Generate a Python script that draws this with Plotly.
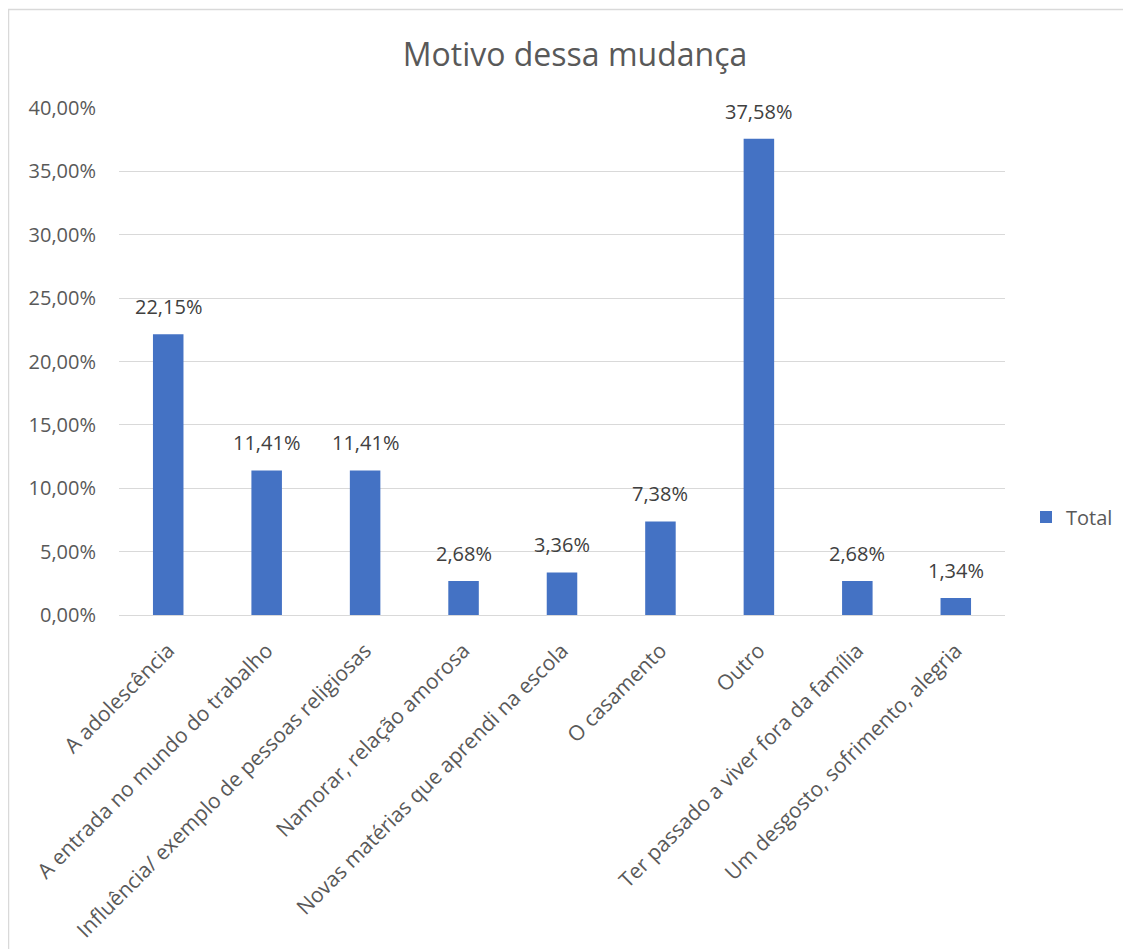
import plotly.graph_objects as go

categories = [
    "A adolescência",
    "A entrada no mundo do trabalho",
    "Influência/ exemplo de pessoas religiosas",
    "Namorar, relação amorosa",
    "Novas matérias que aprendi na escola",
    "O casamento",
    "Outro",
    "Ter passado a viver fora da família",
    "Um desgosto, sofrimento, alegria",
]
values = [0.2215, 0.1141, 0.1141, 0.0268, 0.0336, 0.0738, 0.3758, 0.0268, 0.0134]
series_name = "Total"
title_text = "Motivo dessa mudança"

FONT = "Open Sans"
OFF = 8  # page body margin
W, H = 1131 - OFF, 949 - OFF
L, R, T, B = 119 - OFF, 1005 - OFF, 108 - OFF, 615 - OFF

fig = go.Figure(
    go.Bar(
        x=categories,
        y=values,
        name=series_name,
        marker=dict(color="#4472C4", line=dict(width=0)),
        showlegend=True,
    )
)

for c, v in zip(categories, values):
    fig.add_annotation(
        x=c,
        y=v,
        xref="x",
        yref="y",
        text=f"{v * 100:.2f}%".replace(".", ","),
        showarrow=False,
        yanchor="bottom",
        yshift=12,
        font=dict(family=FONT, size=20, color="#404040"),
    )

fig.update_layout(
    width=W,
    height=H,
    separators=",.",
    paper_bgcolor="white",
    plot_bgcolor="white",
    margin=dict(l=L, r=W - R, t=T, b=H - B, autoexpand=False),
    bargap=0.69,
    title=dict(
        text=title_text,
        x=(575 - OFF) / W,
        xanchor="center",
        y=1 - (55 - OFF) / H,
        yanchor="middle",
        font=dict(family=FONT, size=32, color="#595959"),
    ),
    font=dict(family=FONT, color="#595959"),
    legend=dict(
        x=(1026 - 119) / (R - L),
        y=(615 - 517) / (B - T),
        xanchor="left",
        yanchor="middle",
        itemwidth=30,
        font=dict(family=FONT, size=20, color="#595959"),
        bgcolor="rgba(0,0,0,0)",
    ),
    xaxis=dict(
        tickangle=-45,
        tickfont=dict(family=FONT, size=21, color="#595959"),
        showline=True,
        linecolor="#D9D9D9",
        linewidth=1,
        ticks="",
        showgrid=False,
        ticklabelstandoff=14,
    ),
    yaxis=dict(
        range=[0, 0.40],
        dtick=0.05,
        tickformat=".2%",
        tickfont=dict(family=FONT, size=20, color="#595959"),
        showgrid=True,
        gridcolor="#D9D9D9",
        gridwidth=1,
        zeroline=False,
        showline=False,
        ticks="",
        ticklabelstandoff=22,
    ),
    shapes=[
        dict(
            type="rect",
            xref="paper",
            yref="paper",
            x0=(0.5 - L) / (R - L),
            x1=(1140 - L) / (R - L),
            y0=(B - 960) / (B - T),
            y1=(B - 1.5) / (B - T),
            line=dict(color="#D9D9D9", width=1.5),
            fillcolor="rgba(0,0,0,0)",
            layer="below",
        )
    ],
)

fig.write_html("out.html")
